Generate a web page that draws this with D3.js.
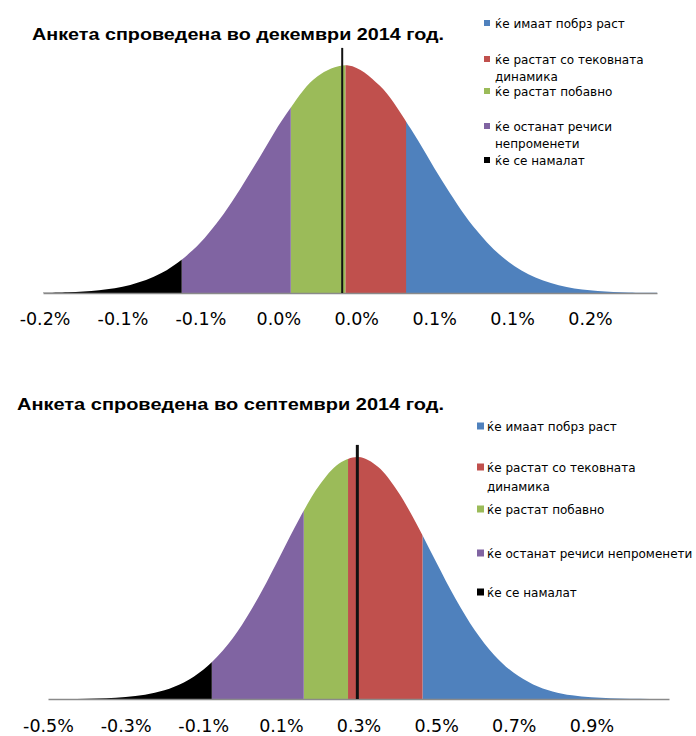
<!DOCTYPE html>
<html>
<head>
<meta charset="utf-8">
<script src="https://cdn.jsdelivr.net/npm/d3@7"></script>
<style>
  body { margin: 0; background: #fff; }
  svg { display: block; }
</style>
</head>
<body>
<svg id="chart" width="696" height="736"></svg>
<script>
// Legend categories (order as in legend) and their colours
const categories = ["ќе имаат побрз раст", "ќе растат со тековната динамика", "ќе растат побавно",
  "ќе останат речиси непроменети", "ќе се намалат"];
const colors = ["#4f81bd", "#c0504d", "#9bbb59", "#8064a2", "#000000"];

// December 2014 survey (values in %)
const decX = [-0.18, -0.16, -0.14, -0.12, -0.10, -0.08, -0.06, -0.04, -0.02, 0.00, 0.02,
  0.04, 0.06, 0.08, 0.10, 0.12, 0.14, 0.16, 0.18, 0.20, 0.22];
const decY = [0.001, 0.0038, 0.0124, 0.0354, 0.0874, 0.187, 0.348, 0.561, 0.784, 0.950, 0.998,
  0.910, 0.720, 0.493, 0.293, 0.151, 0.0677, 0.0263, 0.0088, 0.0026, 0.0007];
// band limits in legend order: blue, red, green, purple, black
const decBands = [[0.057, 0.218], [0.018, 0.057], [-0.017, 0.018], [-0.087, -0.017], [-0.176, -0.087]];
const decDomain = [-0.176, 0.218];
const decMarker = 0.016;
const decTicks = [-0.175, -0.125, -0.075, -0.025, 0.025, 0.075, 0.125, 0.175];
const decTickLabels = ["-0.2%", "-0.1%", "-0.1%", "0.0%", "0.0%", "0.1%", "0.1%", "0.2%"];
const decLegend = [["ќе имаат побрз раст"], ["ќе растат со тековната", "динамика"], ["ќе растат побавно"],
  ["ќе останат речиси", "непроменети"], ["ќе се намалат"]];

// September 2014 survey (values in %)
const sepX = [-0.50, -0.45, -0.40, -0.35, -0.30, -0.25, -0.20, -0.15, -0.10, -0.05, 0.00,
  0.05, 0.10, 0.15, 0.20, 0.25, 0.30, 0.35, 0.40, 0.45, 0.50, 0.55, 0.60, 0.65, 0.70,
  0.75, 0.80, 0.85, 0.90, 0.95, 1.00, 1.05, 1.10];
const sepY = [0.0002, 0.0005, 0.0014, 0.0035, 0.0082, 0.0178, 0.036, 0.0682, 0.1205, 0.199, 0.307,
  0.443, 0.597, 0.752, 0.885, 0.973, 1.0, 0.960, 0.861, 0.722, 0.566, 0.414, 0.283, 0.181, 0.108,
  0.0603, 0.0315, 0.0153, 0.007, 0.003, 0.0012, 0.0004, 0.0002];
const sepBands = [[0.465, 1.10], [0.273, 0.465], [0.159, 0.273], [-0.078, 0.159], [-0.50, -0.078]];
const sepDomain = [-0.50, 1.10];
const sepMarker = 0.297;
const sepTicks = [-0.5, -0.3, -0.1, 0.1, 0.3, 0.5, 0.7, 0.9];
const sepTickLabels = ["-0.5%", "-0.3%", "-0.1%", "0.1%", "0.3%", "0.5%", "0.7%", "0.9%"];
const sepLegend = [["ќе имаат побрз раст"], ["ќе растат со тековната", "динамика"], ["ќе растат побавно"],
  ["ќе останат речиси непроменети"], ["ќе се намалат"]];

const svg = d3.select("#chart");

function drawChart(opt) {
  const g = svg.append("g");
  const x = d3.scaleLinear().domain(opt.domain).range([opt.left, opt.right]);
  const y = d3.scaleLinear().domain([0, 1]).range([opt.base, opt.peak]);
  const pts = opt.xs.map((v, i) => [v, opt.ys[i]]);

  const area = d3.area()
    .x(d => x(d[0])).y0(y(0)).y1(d => y(d[1]))
    .curve(d3.curveCatmullRom.alpha(0.5));

  opt.bands.forEach((b, i) => {
    const id = opt.id + "-clip-" + i;
    g.append("clipPath").attr("id", id)
      .append("rect")
      .attr("x", x(b[0])).attr("y", 0)
      .attr("width", x(b[1]) - x(b[0])).attr("height", y(0) + 1);
    g.append("path").datum(pts)
      .attr("d", area)
      .attr("fill", colors[i])
      .attr("clip-path", `url(#${id})`);
  });

  // axis
  const axis = d3.axisBottom(x).tickValues(opt.ticks)
    .tickFormat((d, i) => opt.tickLabels[i]).tickSize(0).tickPadding(opt.pad);
  const ax = g.append("g").attr("transform", `translate(0,${y(0)})`).call(axis);
  ax.select(".domain").attr("stroke", "#8a8a8a").attr("stroke-width", 1.6);
  ax.selectAll("text")
    .attr("font-family", "DejaVu Sans, Verdana, sans-serif")
    .attr("font-size", 17.5).attr("fill", "#000");

  // marker line
  g.append("line")
    .attr("x1", x(opt.marker)).attr("x2", x(opt.marker))
    .attr("y1", y(0)).attr("y2", y(opt.markerTop))
    .attr("stroke", "#111").attr("stroke-width", opt.markerWidth);

  // title
  g.append("text")
    .attr("x", opt.titleX).attr("y", opt.titleY)
    .attr("font-family", "Liberation Sans, Arial, sans-serif")
    .attr("font-weight", "bold").attr("font-size", opt.titleSize)
    .attr("textLength", opt.titleW).attr("lengthAdjust", "spacingAndGlyphs")
    .text(opt.title);

  // legend
  const lg = g.append("g");
  opt.legend.forEach((lines, i) => {
    const cy = opt.legendY[i];
    lg.append("rect")
      .attr("x", opt.sqX).attr("y", cy - opt.sq / 2 - 1)
      .attr("width", opt.sq).attr("height", opt.sq)
      .attr("fill", colors[i]);
    lines.forEach((ln, j) => {
      lg.append("text")
        .attr("x", opt.legendX).attr("y", cy + j * opt.lineGap + 4)
        .attr("font-family", "DejaVu Sans, Verdana, sans-serif")
        .attr("font-size", 12).attr("fill", "#000")
        .text(ln);
    });
  });
}

drawChart({
  id: "dec", xs: decX, ys: decY, bands: decBands, domain: decDomain,
  ticks: decTicks, tickLabels: decTickLabels, marker: decMarker, markerTop: 1.075, markerWidth: 2,
  left: 43, right: 657, base: 293, peak: 65, pad: 19.5,
  title: "Анкета спроведена во декември 2014 год.", titleX: 32, titleY: 39.5, titleSize: 17, titleW: 412,
  legend: decLegend, legendX: 495, sqX: 484, legendY: [24, 60, 92, 127, 161], lineGap: 17, sq: 6
});

drawChart({
  id: "sep", xs: sepX, ys: sepY, bands: sepBands, domain: sepDomain,
  ticks: sepTicks, tickLabels: sepTickLabels, marker: sepMarker, markerTop: 1.05, markerWidth: 3,
  left: 48, right: 669, base: 699, peak: 457, pad: 21,
  title: "Анкета спроведена во септември 2014 год.", titleX: 17, titleY: 410, titleSize: 17, titleW: 427,
  legend: sepLegend, legendX: 487, sqX: 477, legendY: [427, 468, 510, 554, 593], lineGap: 19, sq: 7
});
</script>
</body>
</html>
